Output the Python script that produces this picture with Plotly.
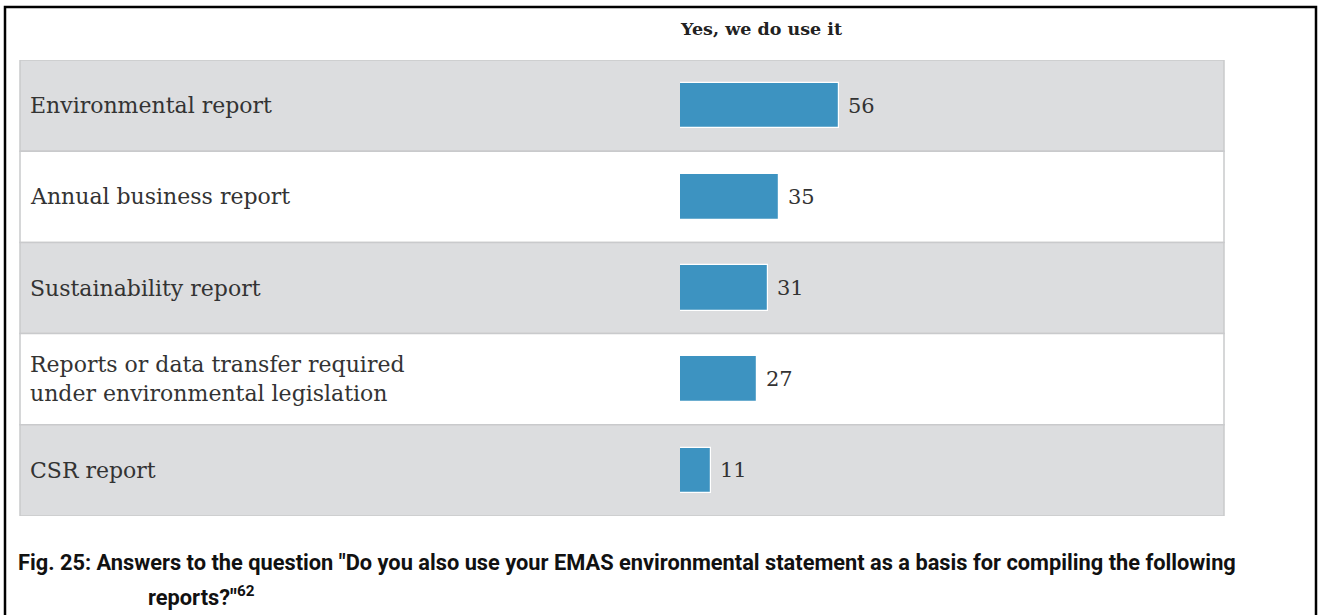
import plotly.graph_objects as go

# Survey answers: share of organisations using the EMAS statement for each report type
categories = [
    "Environmental report",
    "Annual business report",
    "Sustainability report",
    "Reports or data transfer required<br>under environmental legislation",
    "CSR report",
]
values = [56, 35, 31, 27, 11]
column_header = "Yes, we do use it"
caption_line1 = ('Fig. 25: Answers to the question "Do you also use your EMAS environmental '
                 'statement as a basis for compiling the following')
caption_line2 = 'reports?"<sup>62</sup>'

W, H = 1322, 615
TABLE_LEFT, TABLE_RIGHT = 20, 1224
TABLE_TOP, TABLE_BOTTOM = 60, 516
BAR_ZERO = 680
PX_PER_UNIT = 2.834

SERIF = "DejaVu Serif"
CAPTION_FONT = "Roboto, sans-serif"
BAR_COLOR = "#3d93c1"
ROW_GRAY = "#dcdddf"
ROW_LINE = "#c9cacc"

fig = go.Figure()

ypos = list(range(len(categories)))

fig.add_trace(go.Bar(
    x=values,
    y=ypos,
    orientation="h",
    width=0.5,
    marker=dict(color=BAR_COLOR, line=dict(color="white", width=1.2)),
    hoverinfo="skip",
    showlegend=False,
))

shapes = []
# alternating row backgrounds
for i in ypos:
    shapes.append(dict(
        type="rect", xref="paper", yref="y",
        x0=TABLE_LEFT / W, x1=TABLE_RIGHT / W, y0=i - 0.5, y1=i + 0.5,
        fillcolor=ROW_GRAY if i % 2 == 0 else "white",
        line=dict(color=ROW_LINE, width=1.5),
        layer="below",
    ))

# outer frame (top, left, right)
shapes.append(dict(
    type="path", xref="paper", yref="paper",
    path=f"M {5/W},0 L {5/W},{1-7/H} L {1316/W},{1-7/H} L {1316/W},0",
    line=dict(color="black", width=2.5),
))

annotations = []
for i, cat in enumerate(categories):
    annotations.append(dict(
        x=28 / W, xref="paper", y=i, yref="y", text=cat,
        xanchor="left", yanchor="middle", align="left", showarrow=False,
        font=dict(family=SERIF, size=22, color="#333333"),
    ))
for i, v in enumerate(values):
    annotations.append(dict(
        x=v, xref="x", y=i, yref="y", text=str(v),
        xanchor="left", yanchor="middle", showarrow=False, xshift=7,
        font=dict(family=SERIF, size=21, color="#333333"),
    ))

annotations.append(dict(
    x=761 / W, xref="paper", y=1 - 29 / H, yref="paper", text="<b>" + column_header + "</b>",
    xanchor="center", yanchor="middle", showarrow=False,
    font=dict(family=SERIF, size=17.5, color="#222222"),
))
annotations.append(dict(
    x=16 / W, xref="paper", y=1 - 562 / H, yref="paper", text="<b>" + caption_line1 + "</b>",
    xanchor="left", yanchor="middle", showarrow=False,
    font=dict(family=CAPTION_FONT, size=21.8, color="#111111"),
))
annotations.append(dict(
    x=146 / W, xref="paper", y=1 - 596 / H, yref="paper", text="<b>" + caption_line2 + "</b>",
    xanchor="left", yanchor="middle", showarrow=False,
    font=dict(family=CAPTION_FONT, size=21.8, color="#111111"),
))

x_span = (TABLE_RIGHT - BAR_ZERO) / PX_PER_UNIT

fig.update_layout(
    width=W, height=H,
    margin=dict(l=0, r=0, t=0, b=0),
    paper_bgcolor="white", plot_bgcolor="rgba(0,0,0,0)",
    shapes=shapes,
    annotations=annotations,
    bargap=0,
    xaxis=dict(domain=[BAR_ZERO / W, TABLE_RIGHT / W], range=[0, x_span],
               visible=False, fixedrange=True),
    yaxis=dict(domain=[1 - TABLE_BOTTOM / H, 1 - TABLE_TOP / H],
               range=[len(categories) - 0.5, -0.5], visible=False, fixedrange=True),
)

fig.write_html("out.html")
